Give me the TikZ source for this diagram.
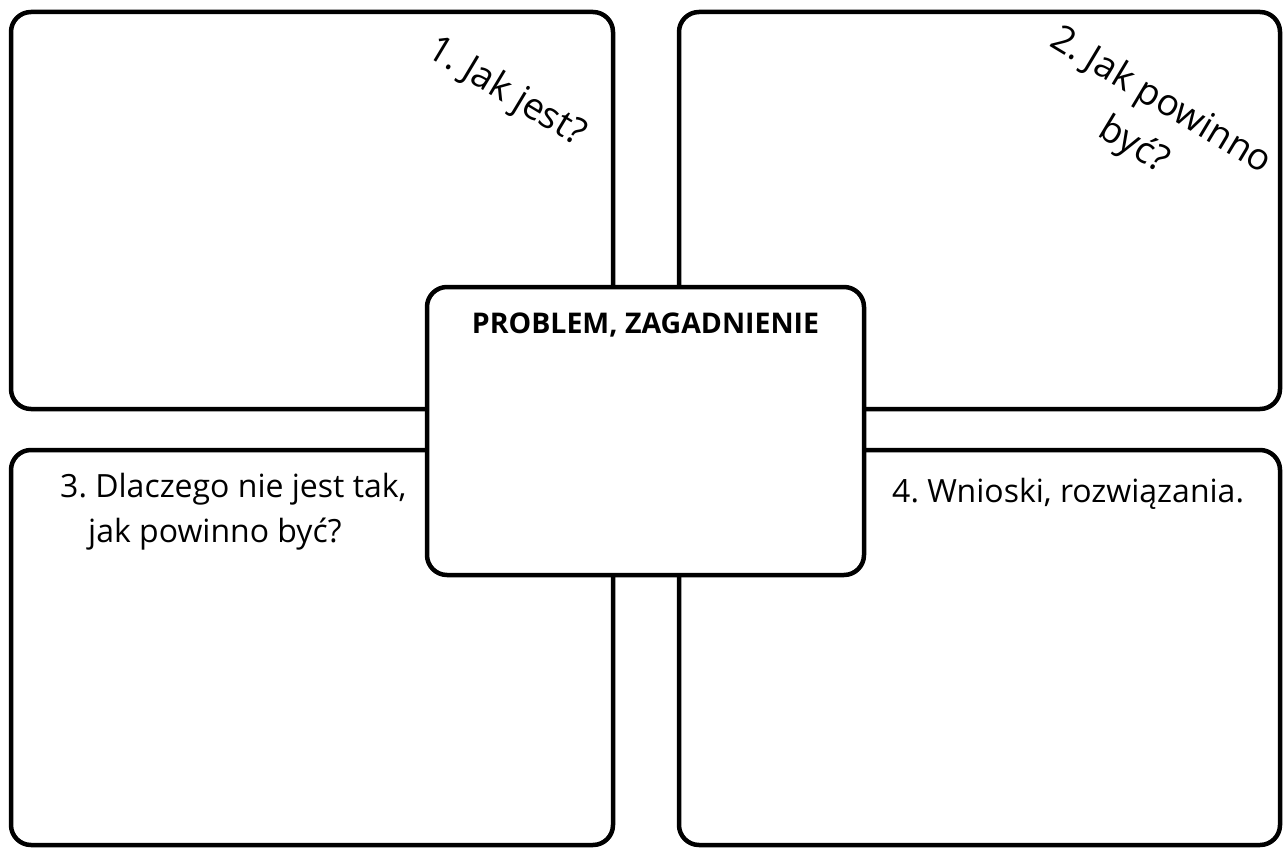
\documentclass[tikz,border=0pt]{standalone}
\usepackage{fontspec}
\setmainfont{Open Sans}
\frenchspacing
\begin{document}
\begin{tikzpicture}[x=1pt,y=-1pt,
  panel/.style={draw=black, line width=4.5pt, rounded corners=20pt, fill=white,
    rectangle, inner sep=0pt},
  lbl/.style={font=\fontsize{32}{45}\selectfont, inner sep=0pt, text=black},
  rlbl/.style={font=\fontsize{37}{52}\selectfont, inner sep=0pt, text=black, rotate=-31},
  ttl/.style={font=\fontsize{28.5}{34}\selectfont\bfseries, inner sep=0pt, text=black}]
\fill[white] (0,0) rectangle (1287,848);
\useasboundingbox (0,0) rectangle (1287,848);
% outer panels
\node[panel, minimum width=602pt, minimum height=397pt] (tl) at (312,210.5) {};
\node[panel, minimum width=601pt, minimum height=397pt] (tr) at (979.5,210.5) {};
\node[panel, minimum width=602pt, minimum height=395pt] (bl) at (312,647.5) {};
\node[panel, minimum width=601pt, minimum height=395pt] (br) at (979.5,647.5) {};
% central panel
\node[panel, minimum width=437pt, minimum height=288pt] (c) at (645.5,431) {};
% texts
\node[ttl, anchor=base] (ct) at (645.5,333) {PROBLEM, ZAGADNIENIE};
\node[rlbl] (t1) at (506,93) {1. Jak jest?};
\node[rlbl, align=center] (t2) at (1147,124) {2. Jak powinno\\być?};
\node[lbl, anchor=base west] (t3a) at (60,497) {3. Dlaczego nie jest tak,};
\node[lbl, anchor=base west] (t3b) at (88,542) {jak powinno być?};
\node[lbl, anchor=base west] (t4) at (892,502) {4. Wnioski, rozwiązania.};
\end{tikzpicture}
\end{document}
